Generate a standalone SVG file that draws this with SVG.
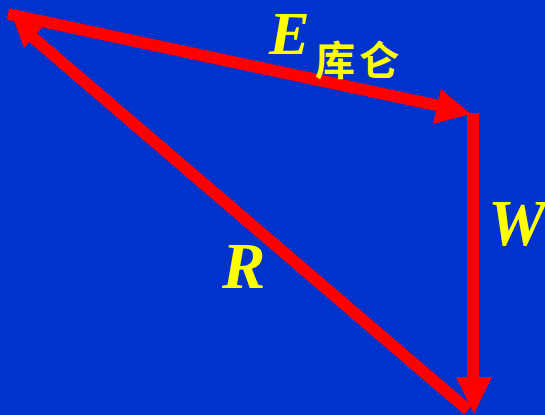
<svg xmlns="http://www.w3.org/2000/svg" width="545" height="415" viewBox="0 0 545 415">
<style>
.shaft{stroke:#FF0000;stroke-width:12;fill:none}
.head{fill:#FF0000;stroke:none}
.lbl{fill:#FFFF00;font-family:"Liberation Serif","Times New Roman",serif;font-weight:bold;font-style:italic}
.cjk{fill:#FFFF00;font-family:"Noto Sans CJK SC",sans-serif;font-weight:bold}
</style>
<rect width="545" height="415" fill="#0033CC"/>
<g id="connectors">
<g id="E-arrow">
<line class="shaft" x1="8" y1="14" x2="445" y2="107"/>
<polygon class="head" points="471,114 441,89 433,124"/>
</g>
<g id="W-arrow">
<line class="shaft" x1="473" y1="113" x2="473" y2="380"/>
<polygon class="head" points="456,377 492,377 474,414"/>
</g>
<g id="R-arrow">
<line class="shaft" x1="468" y1="410" x2="30" y2="35"/>
<polygon class="head" points="10,10 24,48 42,28"/>
</g>
</g>
<g id="label-E">
<text class="lbl" x="269" y="54" font-size="61">E</text>
<text class="cjk" x="315" y="75" font-size="40" letter-spacing="4">库仑</text>
</g>
<g id="label-W"><text class="lbl" x="488" y="245" font-size="65">W</text></g>
<g id="label-R"><text class="lbl" x="222" y="288" font-size="65">R</text></g>
</svg>
